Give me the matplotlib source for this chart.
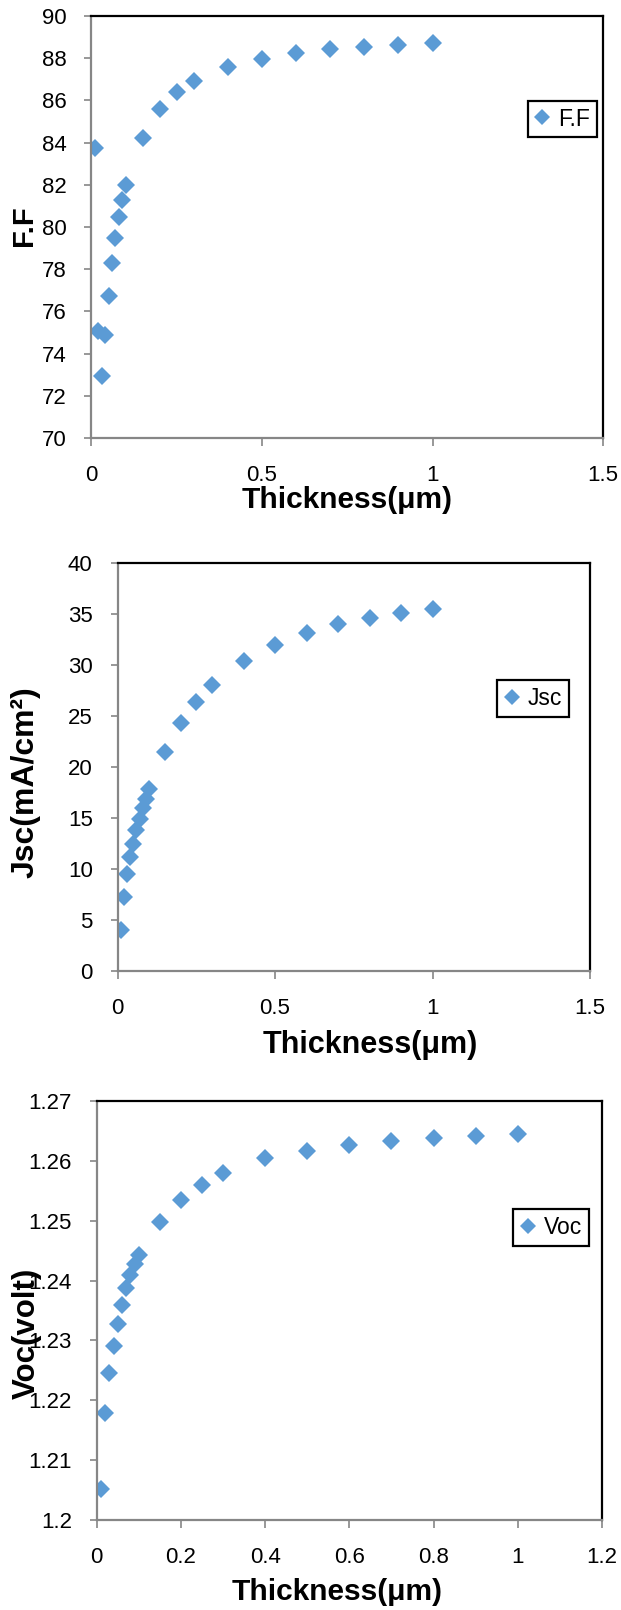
import matplotlib
matplotlib.use("Agg")
import matplotlib.pyplot as plt

plt.rcParams['font.family'] = ['Liberation Sans', 'DejaVu Sans']

# ---------------- data ----------------
thickness = [0.01, 0.02, 0.03, 0.04, 0.05, 0.06, 0.07, 0.08, 0.09, 0.1,
             0.15, 0.2, 0.25, 0.3, 0.4, 0.5, 0.6, 0.7, 0.8, 0.9, 1.0]
ff = [83.74, 75.07, 72.94, 74.88, 76.73, 78.31, 79.49, 80.46, 81.28, 81.97,
      84.23, 85.61, 86.38, 86.90, 87.57, 87.96, 88.23, 88.42, 88.55, 88.63, 88.74]
jsc = [3.99, 7.23, 9.53, 11.13, 12.50, 13.81, 14.93, 15.94, 16.89, 17.84,
       21.50, 24.29, 26.42, 28.05, 30.44, 31.98, 33.13, 33.98, 34.60, 35.09, 35.48]
voc = [1.2052, 1.2179, 1.2245, 1.2290, 1.2328, 1.2360, 1.2388, 1.2409, 1.2428, 1.2443,
       1.2498, 1.2535, 1.2560, 1.2580, 1.2604, 1.2617, 1.2627, 1.2633, 1.2638, 1.2642, 1.2645]

ff_yticks = [70, 72, 74, 76, 78, 80, 82, 84, 86, 88, 90]
jsc_yticks = [0, 5, 10, 15, 20, 25, 30, 35, 40]
voc_yticks = [1.2, 1.21, 1.22, 1.23, 1.24, 1.25, 1.26, 1.27]
voc_yticklabels = ['1.2', '1.21', '1.22', '1.23', '1.24', '1.25', '1.26', '1.27']
x_ticks_a = [0, 0.5, 1, 1.5]
x_ticklabels_a = ['0', '0.5', '1', '1.5']
x_ticks_b = [0, 0.2, 0.4, 0.6, 0.8, 1.0, 1.2]
x_ticklabels_b = ['0', '0.2', '0.4', '0.6', '0.8', '1', '1.2']

# ---------------- layout ----------------
W, H = 621, 1610
DPI = 100
fig = plt.figure(figsize=(W / DPI, H / DPI), dpi=DPI)
fig.patch.set_facecolor('white')

BLUE = '#5B9BD5'
GRAY = '#868686'


def px_axes(l, t, r, b):
    return fig.add_axes([l / W, 1 - b / H, (r - l) / W, (b - t) / H])


def style(ax, box, xlim, xt, xtl, ylim, yt, ytl, ylabel, ylab_xy, ylab_size,
          xlab_xy, xlab_size, leg_label, leg_box):
    l, t, r, b = box
    ax.set_xlim(*xlim)
    ax.set_ylim(*ylim)
    ax.set_xticks(xt)
    ax.set_xticklabels(xtl)
    ax.set_yticks(yt)
    ax.set_yticklabels(ytl)
    for s in ['top', 'right']:
        ax.spines[s].set_color('black')
        ax.spines[s].set_linewidth(1.6)
    for s in ['left', 'bottom']:
        ax.spines[s].set_color(GRAY)
        ax.spines[s].set_linewidth(1.6)
    ax.tick_params(axis='both', direction='out', length=5.4, width=1.2,
                   color=GRAY, labelsize=16, labelcolor='black')
    ax.tick_params(axis='x', pad=14.0)
    ax.tick_params(axis='y', pad=12.5)
    # y label
    yx = (ylab_xy[0] - l) / (r - l)
    yy = (b - ylab_xy[1]) / (b - t)
    ax.set_ylabel(ylabel, fontsize=ylab_size, fontweight='bold', va='center', ha='center')
    ax.yaxis.set_label_coords(yx, yy)
    # x label
    xx = (xlab_xy[0] - l) / (r - l)
    xy = (b - xlab_xy[1]) / (b - t)
    ax.set_xlabel('Thickness(μm)', fontsize=xlab_size, fontweight='bold', va='center', ha='center')
    ax.xaxis.set_label_coords(xx, xy)
    # legend
    ll, lt, lr, lb = leg_box
    cx = ((ll + lr) / 2 - l) / (r - l)
    cy = (b - (lt + lb) / 2) / (b - t)
    leg = ax.legend([leg_label], loc='center', bbox_to_anchor=(cx, cy),
                    fontsize=16.5, frameon=True, fancybox=False, framealpha=1,
                    edgecolor='black', handlelength=0.7, handletextpad=0.35,
                    borderpad=0.3, borderaxespad=0, markerscale=0.95)
    leg.get_frame().set_linewidth(1.6)


# Panel 1: F.F
box1 = (91.5, 16, 603, 438)
ax1 = px_axes(*box1)
ax1.plot(thickness, ff, linestyle='none', marker='D', markersize=9,
         color=BLUE, markeredgewidth=0, label='F.F')
style(ax1, box1, (0, 1.5), x_ticks_a, x_ticklabels_a, (70, 90), ff_yticks,
      [str(v) for v in ff_yticks], 'F.F', (24.5, 226), 21, (347.5, 500), 21.5,
      'F.F', (523.6, 101, 601.2, 137))

# Panel 2: Jsc
box2 = (117.5, 563, 590, 971)
ax2 = px_axes(*box2)
ax2.plot(thickness, jsc, linestyle='none', marker='D', markersize=9,
         color=BLUE, markeredgewidth=0, label='Jsc')
style(ax2, box2, (0, 1.5), x_ticks_a, x_ticklabels_a, (0, 40), jsc_yticks,
      [str(v) for v in jsc_yticks], 'Jsc(mA/cm²)', (26, 782), 23, (370, 1045), 22,
      'Jsc', (493, 683, 573.5, 714))

# Panel 3: Voc
box3 = (96.7, 1101, 602, 1520)
ax3 = px_axes(*box3)
ax3.plot(thickness, voc, linestyle='none', marker='D', markersize=9,
         color=BLUE, markeredgewidth=0, label='Voc')
style(ax3, box3, (0, 1.2), x_ticks_b, x_ticklabels_b, (1.2, 1.27), voc_yticks,
      voc_yticklabels, 'Voc(volt)', (27, 1333), 22.5, (337, 1592), 21.5,
      'Voc', (511, 1212, 591, 1243))

fig.savefig('out.png', dpi=DPI, facecolor='white')
